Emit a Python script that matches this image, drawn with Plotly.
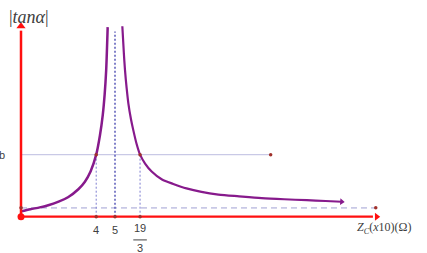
import plotly.graph_objects as go

# ---- data ----
x_left = [0.0, 0.5, 1.0, 1.45, 2.0, 2.5, 3.05, 3.4, 3.7, 4.0, 4.2, 4.35, 4.45, 4.53, 4.61]
y_left = [0.6, 0.85, 1.05, 1.3, 1.7, 2.2, 3.1, 3.95, 5.1, 7.0, 9.2, 11.5, 13.8, 16.5, 21.4]
x_right = [5.39, 5.47, 5.53, 5.62, 5.71, 5.85, 5.97, 6.15, 19/3, 6.6, 6.95, 7.5, 8.1,
           8.8, 9.6, 10.5, 11.6, 12.8, 14.0, 15.2, 16.2, 17.06]
y_right = [21.5, 18.5, 16.6, 14.5, 12.8, 11.0, 9.8, 8.2, 7.0, 6.0, 5.1, 4.2, 3.7,
           3.2, 2.8, 2.5, 2.3, 2.1, 1.97, 1.86, 1.77, 1.69]

b_value = 7.0
asymptote_x = 5.0
asymptote_top = 20.9
h_asymptote = 1.0
roots = [4.0, 19/3]
tick_vals = [4.0, 5.0, 19/3]
b_line_end = 13.28
dash_line_end = 18.87
x_axis_end = 18.92
y_axis_end = 21.5

PURPLE = "#871a8c"
RED = "#ff1010"
LAV = "#c9c9e6"
DOTBLUE = "#7d7dd0"
DARKRED = "#a0302a"
GREY = "#404040"

fig = go.Figure()

# horizontal asymptote (dashed) and b-line
fig.add_trace(go.Scatter(x=[0, dash_line_end], y=[h_asymptote, h_asymptote], mode="lines",
                         line=dict(color=LAV, width=1.6, dash="6px,4px"), hoverinfo="skip"))
fig.add_trace(go.Scatter(x=[0, b_line_end], y=[b_value, b_value], mode="lines",
                         line=dict(color=LAV, width=1.2), hoverinfo="skip"))

# vertical dotted guides
for r in roots:
    fig.add_trace(go.Scatter(x=[r, r], y=[0, b_value], mode="lines",
                             line=dict(color=DOTBLUE, width=1, dash="2px,2px"), hoverinfo="skip"))
fig.add_trace(go.Scatter(x=[asymptote_x, asymptote_x], y=[0, asymptote_top], mode="lines",
                         line=dict(color="#5a5ab8", width=1.5, dash="2px,2px"), hoverinfo="skip"))

# curve branches
fig.add_trace(go.Scatter(x=x_left, y=y_left, mode="lines",
                         line=dict(color=PURPLE, width=2.5, shape="spline", smoothing=0.8),
                         hoverinfo="skip"))
fig.add_trace(go.Scatter(x=x_right, y=y_right, mode="lines",
                         line=dict(color=PURPLE, width=2.2, shape="spline", smoothing=0.8),
                         hoverinfo="skip"))
# curve end arrow head
fig.add_trace(go.Scatter(x=[x_right[-1]], y=[y_right[-1]], mode="markers",
                         marker=dict(color=PURPLE, size=6, symbol="triangle-right", angle=3),
                         hoverinfo="skip"))

# axes lines
fig.add_trace(go.Scatter(x=[0, x_axis_end - 0.2], y=[0, 0], mode="lines",
                         line=dict(color=RED, width=2.2), hoverinfo="skip"))
fig.add_trace(go.Scatter(x=[0, 0], y=[0, y_axis_end - 0.5], mode="lines",
                         line=dict(color=RED, width=2.5), hoverinfo="skip"))
fig.add_trace(go.Scatter(x=[x_axis_end], y=[0], mode="markers",
                         marker=dict(color=RED, size=7, symbol="triangle-right"), hoverinfo="skip"))
fig.add_trace(go.Scatter(x=[0], y=[y_axis_end], mode="markers",
                         marker=dict(color=RED, size=8, symbol="triangle-up"), hoverinfo="skip"))

# small marker dots
fig.add_trace(go.Scatter(x=roots + [b_line_end, dash_line_end] + tick_vals + [0],
                         y=[b_value, b_value, b_value, h_asymptote, 0, 0, 0, h_asymptote],
                         mode="markers", marker=dict(color=DARKRED, size=3.5),
                         hoverinfo="skip"))
fig.add_trace(go.Scatter(x=[0], y=[0], mode="markers",
                         marker=dict(color=RED, size=7, symbol="circle"), hoverinfo="skip"))

ann = []
ann.append(dict(x=0.45, y=22.55, xref="x", yref="y", showarrow=False,
                text="|<i>tanα</i>|", font=dict(family="Liberation Serif", size=18, color=GREY)))
ann.append(dict(x=-0.75, y=b_value, xref="x", yref="y", showarrow=False, xanchor="right",
                text="b", font=dict(family="Liberation Sans", size=11, color=GREY)))
for v, t in zip(tick_vals[:2], ["4", "5"]):
    ann.append(dict(x=v, y=-1.5, xref="x", yref="y", showarrow=False, text=t,
                    font=dict(family="Liberation Sans", size=11, color=GREY)))
ann.append(dict(x=tick_vals[2], y=-1.25, xref="x", yref="y", showarrow=False, text="19",
                font=dict(family="Liberation Sans", size=11, color=GREY)))
ann.append(dict(x=tick_vals[2], y=-3.5, xref="x", yref="y", showarrow=False, text="3",
                font=dict(family="Liberation Sans", size=11, color=GREY)))
ann.append(dict(x=19.35, y=-1.3, xref="x", yref="y", showarrow=False,
                text="<i>Z</i><sub><i>C</i></sub>(<i>x</i>10)(Ω)",
                font=dict(family="Liberation Serif", size=12, color=GREY)))

shapes = [dict(type="line", xref="x", yref="y", x0=tick_vals[2] - 0.36, x1=tick_vals[2] + 0.36,
               y0=-2.62, y1=-2.62, line=dict(color=GREY, width=1))]

fig.update_layout(
    width=427, height=253, margin=dict(l=0, r=0, t=0, b=0),
    paper_bgcolor="white", plot_bgcolor="white", showlegend=False,
    xaxis=dict(range=[-1.117, 21.596], visible=False, fixedrange=True),
    yaxis=dict(range=[-4.097, 24.458], visible=False, fixedrange=True),
    annotations=ann, shapes=shapes,
)
fig.write_html("out.html")
